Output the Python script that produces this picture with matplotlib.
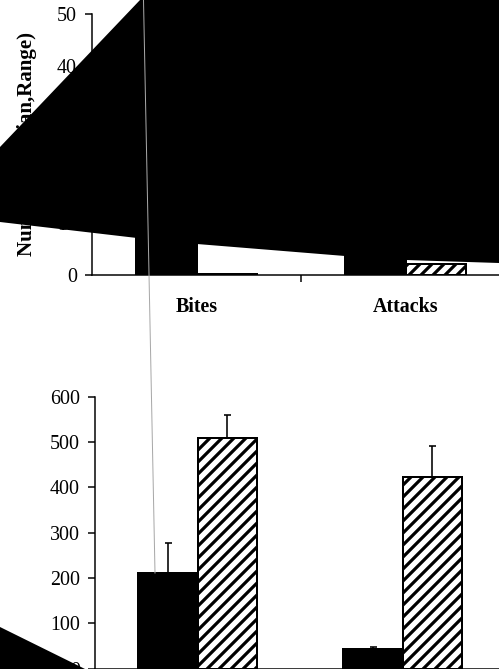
import matplotlib
matplotlib.use("Agg")
import matplotlib.pyplot as plt
from matplotlib.patches import Polygon
from matplotlib.lines import Line2D

plt.rcParams['font.family'] = ['Liberation Serif', 'DejaVu Serif']
plt.rcParams['hatch.linewidth'] = 3.2
plt.rcParams['hatch.color'] = 'black'

# behaviour categories and the two groups per category
categories = ['Bites', 'Attacks']

# upper panel: counts (median)
count_solid = [14, 6]
count_hatched = [0.2, 2.1]

# lower panel: means with upward error
dur_solid = [211, 42]
dur_solid_err = [66, 6]
dur_hatched = [509, 424]
dur_hatched_err = [51, 68]

W, H = 499, 669
fig = plt.figure(figsize=(W / 72, H / 72), dpi=72)


def px_box(left, top, right, bottom):
    return [left / W, 1 - bottom / H, (right - left) / W, (bottom - top) / H]


def to_fig(pts):
    return [(x / W, 1 - y / H) for x, y in pts]


def style_axes(ax, ymax, ystep, show_names=True):
    ax.set_xlim(-0.5, 1.5)
    ax.set_ylim(0, ymax)
    for s in ['top', 'right']:
        ax.spines[s].set_visible(False)
    for s in ['left', 'bottom']:
        ax.spines[s].set_linewidth(1.5)
    ax.set_yticks(range(0, ymax + 1, ystep))
    ax.set_xticks([0.5])
    ax.set_xticklabels([''])
    ax.tick_params(axis='x', which='major', length=7, width=1.5, direction='out')
    ax.tick_params(axis='y', length=7, width=1.5, direction='out', pad=8,
                   labelsize=20)
    if show_names:
        ax.set_xticks([0, 1], categories, minor=True)
        ax.tick_params(axis='x', which='minor', length=0, pad=22)
        for lab in ax.get_xticklabels(minor=True):
            lab.set_fontweight('bold')
            lab.set_fontsize(20)


w = 0.29
x = range(len(categories))

ax_top = fig.add_axes(px_box(92, 14, 92 + 418, 275))
ax_top.bar([i - w for i in x], count_solid, width=w, align='edge',
           color='black', edgecolor='black', linewidth=2)
ax_top.bar(list(x), count_hatched, width=w, align='edge',
           color='white', edgecolor='black', hatch='//', linewidth=2)
style_axes(ax_top, 50, 10)
ax_top.set_ylabel('Number (Median,Range)', fontsize=21, fontweight='bold',
                  labelpad=20)

ax_bot = fig.add_axes(px_box(95, 397, 95 + 410, 668.5))
ax_bot.bar([i - w for i in x], dur_solid, width=w, align='edge',
           color='black', edgecolor='black', linewidth=2)
ax_bot.bar(list(x), dur_hatched, width=w, align='edge',
           color='white', edgecolor='black', hatch='//', linewidth=2)
ax_bot.errorbar([i - w / 2 for i in x], dur_solid,
                yerr=[[0] * len(x), dur_solid_err], fmt='none',
                ecolor='black', elinewidth=1.6, capsize=3.5, capthick=1.6)
ax_bot.errorbar([i + w / 2 for i in x], dur_hatched,
                yerr=[[0] * len(x), dur_hatched_err], fmt='none',
                ecolor='black', elinewidth=1.6, capsize=3.5, capthick=1.6)
style_axes(ax_bot, 600, 100, show_names=False)

# dark overlay shapes sitting on top of the figure
upper_shape = [(0, 147), (140, 0), (W, 0), (W, 263), (406, 260), (345, 256),
               (197, 244), (137, 238), (0, 222)]
fig.add_artist(Polygon(to_fig(upper_shape), closed=True, facecolor='black',
                       edgecolor='none', transform=fig.transFigure, zorder=5))
corner_shape = [(0, 627), (85, H), (0, H)]
fig.add_artist(Polygon(to_fig(corner_shape), closed=True, facecolor='black',
                       edgecolor='none', transform=fig.transFigure, zorder=5))

# thin grey leader line
lx, ly = zip(*to_fig([(143.5, 0), (155, 573)]))
fig.add_artist(Line2D(lx, ly, color='#a8a8a8', linewidth=1,
                      transform=fig.transFigure, zorder=6))

fig.savefig('out.png', dpi=72)
